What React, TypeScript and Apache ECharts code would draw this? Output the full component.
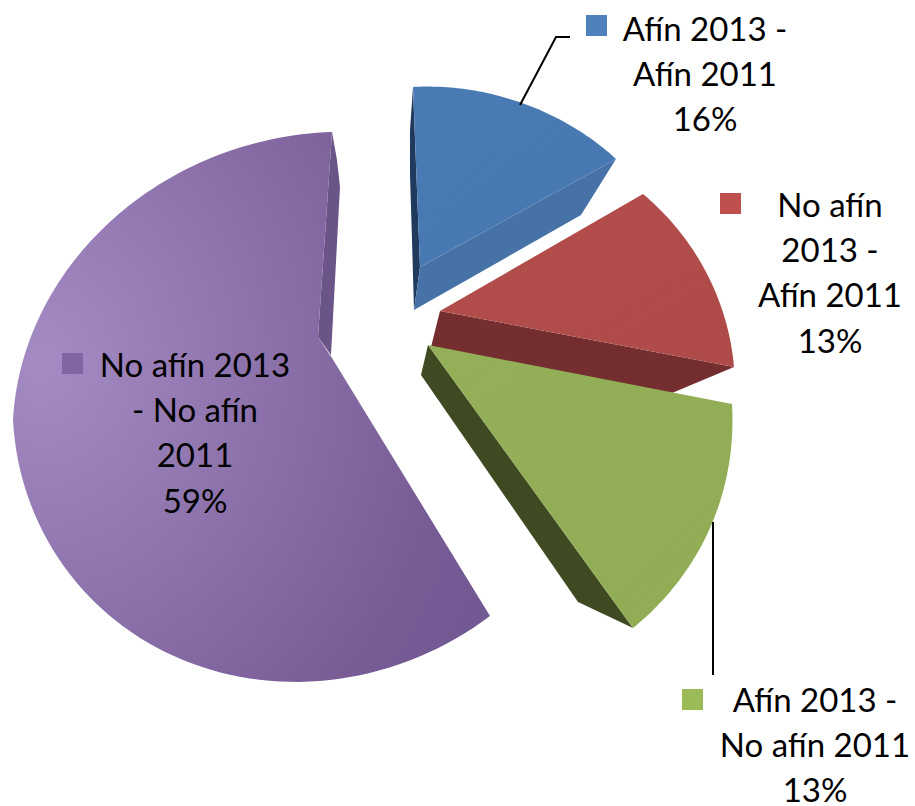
import React, { useEffect, useRef } from "react";
import * as echarts from "echarts";

const categories = ["Afín 2013 - Afín 2011", "No afín 2013 - Afín 2011", "Afín 2013 - No afín 2011", "No afín 2013 - No afín 2011"];
const shares = [16, 13, 13, 59];
const labelLines = [
  ["Afín 2013 -", "Afín 2011", "16%"],
  ["No afín", "2013 -", "Afín 2011", "13%"],
  ["Afín 2013 -", "No afín 2011", "13%"],
  ["No afín 2013", "- No afín", "2011", "59%"],
];

type P = [number, number];
type Piece = { start: P; mid: P; end: P; part: number };
// projected geometry of each exploded, tilted slice (layout only; sweep comes from shares)
const sliceLayout: { rim: Piece[]; apex: P[]; top: string[]; sides: { pts: P[]; fill: string }[] }[] = [
  {
    rim: [{ start: [413, 87], mid: [522, 103], end: [616, 159], part: 1 }],
    apex: [[420, 267]],
    top: ["#4A7BB5", "#4777AF"],
    sides: [
      { pts: [[413, 87], [410, 130], [410, 175], [412, 240], [414, 310], [420, 267]], fill: "#1F3A5C" },
      { pts: [[616, 159], [581, 215], [414, 310], [420, 267]], fill: "#4772A8" },
    ],
  },
  {
    rim: [{ start: [643, 194], mid: [706, 272], end: [734, 367], part: 1 }],
    apex: [[440, 311]],
    top: ["#B24D4A", "#AE4B48"],
    sides: [{ pts: [[440, 311], [734, 367], [672, 393], [431, 347]], fill: "#752E2F" }],
  },
  {
    rim: [{ start: [732, 404], mid: [710, 528], end: [633, 628], part: 1 }],
    apex: [[428, 345]],
    top: ["#93B058", "#90AD55"],
    sides: [{ pts: [[428, 345], [421, 375], [578, 602], [633, 628]], fill: "#3F4A22" }],
  },
  {
    rim: [
      { start: [490, 616], mid: [183, 660], end: [13, 420], part: 0.58 },
      { start: [13, 420], mid: [112, 220], end: [332, 132], part: 0.42 },
    ],
    apex: [[318, 337], [332, 358]],
    top: ["#A58BC3", "#735993"],
    sides: [{ pts: [[332, 132], [337, 160], [340, 187], [331, 355], [318, 337]], fill: "#6B5488" }],
  },
];

const keyColors = ["#4F81BD", "#C0504D", "#9BBB59", "#7F65A2"];
const labelLayout = [
  { cx: 705, y0: 28, key: [586, 15] },
  { cx: 830, y0: 204, key: [720, 193] },
  { cx: 815, y0: 699, key: [682, 689] },
  { cx: 195, y0: 364, key: [62, 353] },
];
const lineStep = 45.2;

function rimPoints(s: P, m: P, e: P, h: number, n = 64): P[] {
  const V: P = [(e[0] - s[0]) / (2 * Math.sin(h)), (e[1] - s[1]) / (2 * Math.sin(h))];
  const k = 1 - Math.cos(h);
  const U: P = [(m[0] - (s[0] + e[0]) / 2) / k, (m[1] - (s[1] + e[1]) / 2) / k];
  const C: P = [m[0] - U[0], m[1] - U[1]];
  const out: P[] = [];
  for (let i = 0; i <= n; i++) {
    const a = -h + (2 * h * i) / n;
    out.push([C[0] + U[0] * Math.cos(a) + V[0] * Math.sin(a), C[1] + U[1] * Math.cos(a) + V[1] * Math.sin(a)]);
  }
  return out;
}

export default function App() {
  const ref = useRef<HTMLDivElement>(null);
  useEffect(() => {
    document.body.style.margin = "0";
    const chart = echarts.init(ref.current!, null, { renderer: "svg" });
    const total = shares.reduce((a, b) => a + b, 0);
    const graphics: any[] = [];
    labelLines.forEach((lines, i) => {
      const l = labelLayout[i];
      graphics.push({ type: "rect", z: 10, shape: { x: l.key[0], y: l.key[1], width: 21, height: 21 }, style: { fill: keyColors[i] } });
      lines.forEach((t, j) => {
        graphics.push({
          type: "text", z: 10, x: l.cx, y: l.y0 + j * lineStep,
          style: { text: t, fontFamily: "Lato", fontSize: 33, lineHeight: 30, fill: "#000", align: "center", verticalAlign: "middle" },
        });
      });
    });
    graphics.push({ type: "polyline", z: 9, shape: { points: [[570, 37], [556, 37], [520, 105]] }, style: { stroke: "#000", lineWidth: 2, fill: "none" } });
    graphics.push({ type: "line", z: 9, shape: { x1: 713, y1: 522, x2: 713, y2: 675 }, style: { stroke: "#000", lineWidth: 2 } });

    chart.setOption({
      animation: false,
      backgroundColor: "#fff",
      graphic: graphics,
      series: [{
        type: "custom",
        coordinateSystem: "none",
        data: shares.map((v, i) => ({ name: categories[i], value: [v] })),
        renderItem: (params: any, api: any) => {
          const g = sliceLayout[params.dataIndex];
          const h = ((api.value(0) as number) / total) * Math.PI;
          const rim = g.rim.flatMap((p) => rimPoints(p.start, p.mid, p.end, h * p.part));
          const purple = params.dataIndex === 3;
          const fill = purple
            ? new echarts.graphic.RadialGradient(0.06, 0.42, 1.0, [
                { offset: 0, color: g.top[0] },
                { offset: 0.85, color: "#775C96" },
                { offset: 1, color: g.top[1] },
              ])
            : new echarts.graphic.LinearGradient(0, 0, 1, 1, [
                { offset: 0, color: g.top[0] },
                { offset: 1, color: g.top[1] },
              ]);
          return {
            type: "group",
            children: [
              ...g.sides.map((s) => ({ type: "polygon", shape: { points: s.pts }, style: { fill: s.fill } })),
              { type: "polygon", shape: { points: [...g.apex, ...rim] }, style: { fill } },
            ],
          };
        },
      }],
    });
    return () => chart.dispose();
  }, []);
  return <div ref={ref} style={{ width: 915, height: 806 }} />;
}
